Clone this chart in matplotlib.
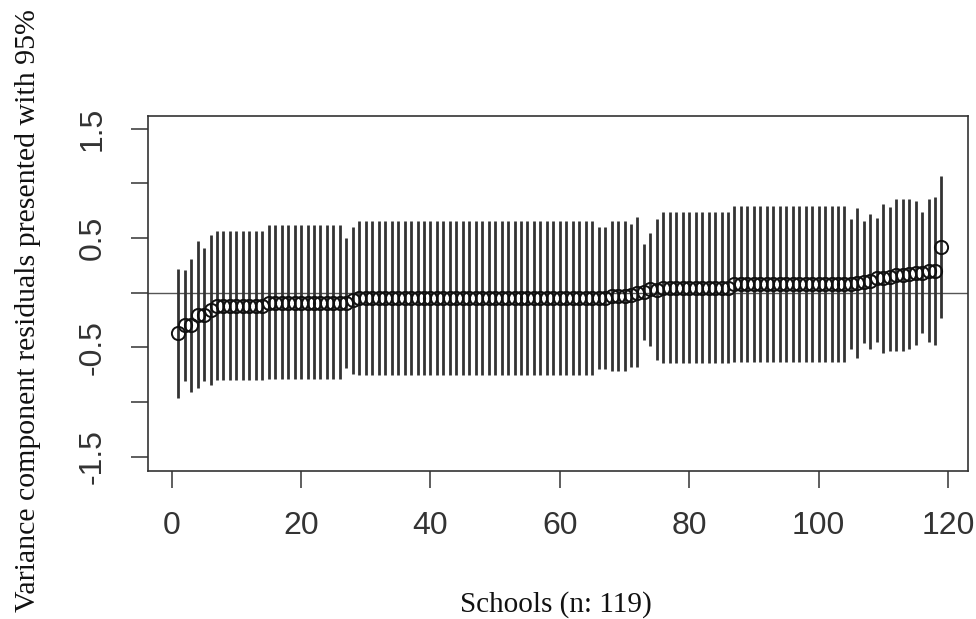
import matplotlib
matplotlib.use("Agg")
import matplotlib.pyplot as plt
import numpy as np

# ---- data ----
schools = list(range(1, 120))

residuals = [
    -0.37, -0.30, -0.30, -0.20, -0.20, -0.16,
    -0.12, -0.12, -0.12, -0.12, -0.12, -0.12, -0.12, -0.12,
    -0.09, -0.09, -0.09, -0.09, -0.09, -0.09, -0.09, -0.09, -0.09, -0.09, -0.09, -0.09,
    -0.095, -0.07,
    -0.05, -0.05, -0.05, -0.05, -0.05, -0.05, -0.05, -0.05, -0.05, -0.05,
    -0.05, -0.05, -0.05, -0.05, -0.05, -0.05, -0.05, -0.05, -0.05, -0.05,
    -0.05, -0.05, -0.05, -0.05, -0.05, -0.05, -0.05, -0.05, -0.05, -0.05,
    -0.05, -0.05, -0.05, -0.05, -0.05, -0.05, -0.05,
    -0.05, -0.05,
    -0.03, -0.03, -0.03,
    -0.02, 0.00, 0.01, 0.03, 0.025,
    0.045, 0.045, 0.045, 0.045, 0.045, 0.045, 0.045, 0.045, 0.045, 0.045, 0.045,
    0.08, 0.08, 0.08, 0.08, 0.08, 0.08, 0.08, 0.08, 0.08,
    0.08, 0.08, 0.08, 0.08, 0.08, 0.08, 0.08, 0.08, 0.08,
    0.08, 0.085, 0.095, 0.11, 0.13, 0.135, 0.14, 0.165, 0.165, 0.17,
    0.18, 0.18, 0.20, 0.20, 0.42,
]

lower = [
    -0.96, -0.81, -0.905, -0.87, -0.81, -0.84,
    -0.80, -0.80, -0.80, -0.80, -0.80, -0.80, -0.80, -0.80,
    -0.79, -0.79, -0.79, -0.79, -0.79, -0.79, -0.79, -0.79, -0.79, -0.79, -0.79, -0.79,
    -0.69, -0.74,
    -0.75, -0.75, -0.75, -0.75, -0.75, -0.75, -0.75, -0.75, -0.75, -0.75,
    -0.75, -0.75, -0.75, -0.75, -0.75, -0.75, -0.75, -0.75, -0.75, -0.75,
    -0.75, -0.75, -0.75, -0.75, -0.75, -0.75, -0.75, -0.75, -0.75, -0.75,
    -0.75, -0.75, -0.75, -0.75, -0.75, -0.75, -0.75,
    -0.70, -0.70,
    -0.72, -0.72, -0.72,
    -0.68, -0.68, -0.43, -0.49, -0.62,
    -0.645, -0.645, -0.645, -0.645, -0.645, -0.645, -0.645, -0.645, -0.645, -0.645, -0.645,
    -0.63, -0.63, -0.63, -0.63, -0.63, -0.63, -0.63, -0.63, -0.63,
    -0.63, -0.63, -0.63, -0.63, -0.63, -0.63, -0.63, -0.63, -0.63,
    -0.515, -0.60, -0.457, -0.515, -0.448, -0.554, -0.533, -0.533, -0.533, -0.518,
    -0.478, -0.371, -0.448, -0.478, -0.234,
]

upper = [
    0.22, 0.21, 0.305, 0.47, 0.41, 0.53,
    0.56, 0.56, 0.56, 0.56, 0.56, 0.56, 0.56, 0.56,
    0.62, 0.62, 0.62, 0.62, 0.62, 0.62, 0.62, 0.62, 0.62, 0.62, 0.62, 0.62,
    0.50, 0.60,
    0.66, 0.66, 0.66, 0.66, 0.66, 0.66, 0.66, 0.66, 0.66, 0.66,
    0.66, 0.66, 0.66, 0.66, 0.66, 0.66, 0.66, 0.66, 0.66, 0.66,
    0.66, 0.66, 0.66, 0.66, 0.66, 0.66, 0.66, 0.66, 0.66, 0.66,
    0.66, 0.66, 0.66, 0.66, 0.66, 0.66, 0.66,
    0.60, 0.60,
    0.66, 0.66, 0.66,
    0.63, 0.69, 0.445, 0.55, 0.67,
    0.735, 0.735, 0.735, 0.735, 0.735, 0.735, 0.735, 0.735, 0.735, 0.735, 0.735,
    0.79, 0.79, 0.79, 0.79, 0.79, 0.79, 0.79, 0.79, 0.79,
    0.79, 0.79, 0.79, 0.79, 0.79, 0.79, 0.79, 0.79, 0.79,
    0.67, 0.77, 0.655, 0.72, 0.686, 0.808, 0.786, 0.853, 0.853, 0.853,
    0.838, 0.735, 0.853, 0.872, 1.067,
]

x_ticks = [0, 20, 40, 60, 80, 100, 120]
y_ticks = [-1.5, -1.0, -0.5, 0.0, 0.5, 1.0, 1.5]
y_tick_labels = ["-1.5", "", "-0.5", "", "0.5", "", "1.5"]
x_label = "Schools (n: 119)"
y_label = "Variance component residuals presented with 95%"

# ---- figure ----
W, H = 976, 619
fig = plt.figure(figsize=(W / 100, H / 100), dpi=100)
fig.patch.set_facecolor("white")

left, right, top, bottom = 147.5, 968, 116, 471
ax = fig.add_axes([left / W, 1 - bottom / H, (right - left) / W, (bottom - top) / H])

ax.vlines(schools, lower, upper, colors="#333333", linewidth=2.0, zorder=2)
ax.axhline(0, color="#555555", linewidth=1.0, zorder=1)
ax.plot(schools, residuals, linestyle="none", marker="o", markersize=9.5,
        markerfacecolor="none", markeredgecolor="#111111", markeredgewidth=1.4, zorder=3)

ax.set_xlim(-3.74, 123.1)
ax.set_ylim(-1.631, 1.616)

ax.set_xticks(x_ticks)
ax.set_xticklabels([str(t) for t in x_ticks])
ax.set_yticks(y_ticks)
ax.set_yticklabels(y_tick_labels, rotation=90, va="center")

for lbl in ax.get_xticklabels() + ax.get_yticklabels():
    lbl.set_fontfamily("Liberation Sans")
    lbl.set_fontsize(23)
    lbl.set_color("#333333")

ax.tick_params(axis="both", direction="out", length=12.5, width=1.1, color="#333333", pad=16)
for sp in ax.spines.values():
    sp.set_linewidth(1.2)
    sp.set_color("#333333")

fig.text(555.5 / W, 1 - 612 / H, x_label, ha="center", va="baseline",
         fontfamily="Liberation Serif", fontsize=21, color="#111111")
fig.text(28 / W, 1 - 612 / H, y_label, ha="center", va="bottom", rotation=90,
         fontfamily="Liberation Serif", fontsize=21.5, color="#111111")

fig.savefig("out.png", dpi=100, facecolor="white")
